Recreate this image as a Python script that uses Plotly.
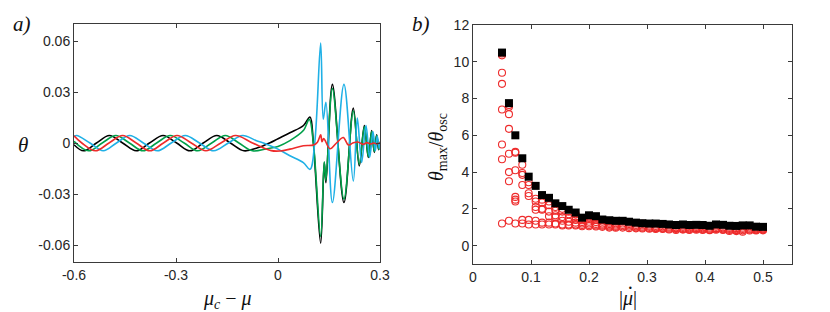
import plotly.graph_objects as go

# ---------------- Panel a data (key points) ----------------
black_x = [-0.6, -0.572, -0.534, -0.496, -0.457, -0.417, -0.378, -0.338, -0.298, -0.259, -0.22, -0.18,
           -0.14, -0.1, -0.06, -0.025, 0.0, 0.035, 0.075, 0.094, 0.104, 0.1255, 0.136, 0.141, 0.160,
           0.194, 0.2215, 0.239, 0.254, 0.2657, 0.2755, 0.2833, 0.2902, 0.296, 0.3]
black_y = [-0.001, -0.0046, 0.0, 0.0044, 0.0, -0.0046, 0.0, 0.0044, 0.0, -0.0046, 0.0, 0.0044,
           0.0, -0.0046, -0.0028, 0.0, 0.0025, 0.006, 0.0103, 0.0153, 0.0, -0.059, -0.0115, -0.0234, 0.0345,
           -0.035, 0.0205, -0.0135, 0.0103, -0.0085, 0.0073, -0.0055, 0.0048, -0.004, 0.0]

green_x = [-0.6, -0.557, -0.517, -0.477, -0.437, -0.397, -0.357, -0.317, -0.276, -0.236, -0.195, -0.155,
           -0.115, -0.075, -0.035, 0.0, 0.035, 0.0745, 0.092, 0.104, 0.1255, 0.136, 0.141, 0.160,
           0.194, 0.2215, 0.239, 0.254, 0.2657, 0.2755, 0.2833, 0.2902, 0.296, 0.3]
green_y = [0.001, -0.0046, 0.0, 0.0044, 0.0, -0.0046, 0.0, 0.0044, 0.0, -0.0046, 0.0, 0.0044,
           0.0, -0.0046, -0.0035, -0.002, 0.0014, 0.0073, 0.0139, 0.0, -0.055, -0.011, -0.022, 0.032,
           -0.033, 0.019, -0.0125, 0.0095, -0.008, 0.0068, -0.005, 0.0044, -0.0036, 0.0008]

red_x = [-0.6, -0.577, -0.537, -0.497, -0.457, -0.417, -0.377, -0.337, -0.297, -0.255, -0.212, -0.168,
         -0.125, -0.075, -0.02, 0.006, 0.035, 0.0745, 0.104, 0.116, 0.1255, 0.1295, 0.1345, 0.153,
         0.172, 0.192, 0.207, 0.22, 0.235, 0.25, 0.262, 0.272, 0.282, 0.291, 0.3]
red_y = [0.0042, 0.0, -0.0046, 0.0, 0.0044, 0.0, -0.0046, 0.0, 0.0044, 0.0, -0.0046, 0.0,
         0.0044, 0.0, -0.0045, -0.0047, -0.0036, -0.0016, -0.0012, 0.0005, 0.0048, 0.0008, 0.0026, -0.0034,
         0.0, 0.0032, -0.0012, 0.0, 0.0006, -0.0008, 0.0002, -0.0006, 0.0, -0.0005, 0.0]

blue_x = [-0.6, -0.592, -0.553, -0.514, -0.475, -0.436, -0.396, -0.355, -0.314, -0.273, -0.231, -0.189,
          -0.146, -0.104, -0.065, -0.03, 0.0, 0.035, 0.0745, 0.094, 0.108, 0.1255, 0.133, 0.141, 0.160,
          0.194, 0.2215, 0.2333, 0.246, 0.2588, 0.2696, 0.2794, 0.2862, 0.292, 0.298, 0.3]
blue_y = [0.0038, 0.0044, 0.0, -0.0046, 0.0, 0.0044, 0.0, -0.0046, 0.0, 0.0044, 0.0, -0.0046,
          0.0, 0.0044, 0.0015, -0.001, -0.0036, -0.0075, -0.0115, -0.0155, 0.0, 0.0588, 0.014, 0.024, -0.035,
          0.0345, -0.0224, 0.0147, -0.0115, 0.0103, -0.0085, 0.0067, -0.0046, 0.004, -0.003, 0.0]

# ---------------- Panel b data ----------------
mu_dot = [0.050, 0.062, 0.073, 0.085, 0.096, 0.108, 0.119, 0.131, 0.142, 0.154,
          0.165, 0.177, 0.188, 0.200, 0.212, 0.223, 0.235, 0.246, 0.258, 0.269,
          0.281, 0.292, 0.304, 0.315, 0.327, 0.338, 0.350, 0.362, 0.373, 0.385,
          0.396, 0.408, 0.419, 0.431, 0.442, 0.454, 0.465, 0.477, 0.488, 0.500]
ratio_max = [10.5, 7.75, 6.0, 4.75, 3.75, 3.25, 2.75, 2.6, 2.3, 2.15,
             1.95, 1.8, 1.52, 1.65, 1.6, 1.42, 1.38, 1.35, 1.35, 1.3,
             1.25, 1.22, 1.2, 1.2, 1.18, 1.15, 1.12, 1.15, 1.12, 1.13,
             1.12, 1.08, 1.15, 1.13, 1.08, 1.07, 1.1, 1.1, 1.03, 1.02]
ratio_phases = [
    [10.45, 10.35, 9.4, 8.8, 7.4, 5.5, 4.7, 1.2],
    [7.65, 7.55, 7.15, 6.35, 5.0, 4.0, 3.5, 1.35],
    [5.1, 5.05, 4.1, 2.65, 2.5, 2.4, 1.2],
    [4.4, 3.95, 3.85, 3.3, 1.4, 1.2],
    [3.45, 3.3, 2.85, 2.7, 1.4, 1.15],
    [2.55, 2.4, 2.1, 1.95, 1.35, 1.15],
    [2.5, 2.35, 2.0, 1.95, 1.25, 1.15],
    [2.4, 2.2, 1.85, 1.6, 1.25, 1.15],
    [2.1, 1.9, 1.65, 1.55, 1.2, 1.15],
    [2.0, 1.85, 1.55, 1.35, 1.15, 1.1],
    [1.85, 1.7, 1.5, 1.3, 1.15, 1.1],
    [1.7, 1.55, 1.4, 1.25, 1.15, 1.1],
    [1.45, 1.38, 1.28, 1.2, 1.12, 1.05],
    [1.58, 1.45, 1.3, 1.2, 1.12, 1.05],
    [1.52, 1.4, 1.28, 1.18, 1.1, 1.04],
    [1.38, 1.3, 1.2, 1.14, 1.08, 1.02],
    [1.33, 1.25, 1.17, 1.1, 1.04, 0.98],
    [1.3, 1.22, 1.15, 1.08, 1.02, 0.97],
    [1.3, 1.2, 1.12, 1.05, 0.98],
    [1.25, 1.17, 1.1, 1.02, 0.95],
    [1.2, 1.12, 1.05, 0.99, 0.94],
    [1.18, 1.1, 1.03, 0.97, 0.93],
    [1.15, 1.08, 1.02, 0.96, 0.92],
    [1.15, 1.07, 1.0, 0.95, 0.9],
    [1.13, 1.05, 0.99, 0.94, 0.9],
    [1.1, 1.03, 0.97, 0.92, 0.88],
    [1.08, 1.0, 0.95, 0.9, 0.85],
    [1.1, 1.02, 0.96, 0.91, 0.87],
    [1.07, 1.0, 0.94, 0.89, 0.85],
    [1.08, 1.01, 0.95, 0.9, 0.86],
    [1.07, 1.0, 0.94, 0.89, 0.85],
    [1.04, 0.97, 0.92, 0.88, 0.84],
    [1.1, 1.02, 0.95, 0.9, 0.86],
    [1.08, 1.0, 0.94, 0.89, 0.85],
    [1.03, 0.96, 0.9, 0.85, 0.8],
    [1.02, 0.95, 0.89, 0.84, 0.79],
    [1.05, 0.97, 0.9, 0.83, 0.76],
    [1.05, 0.98, 0.92, 0.87, 0.82],
    [0.99, 0.94, 0.89, 0.85, 0.82],
    [0.98, 0.93, 0.89, 0.86, 0.83],
]

a_xticks = [-0.6, -0.3, 0, 0.3]
a_xlabels = ["-0.6", "-0.3", "0", "0.3"]
a_yticks = [-0.06, -0.03, 0, 0.03, 0.06]
a_ylabels = ["-0.06", "-0.03", "0", "0.03", "0.06"]
b_xticks = [0, 0.1, 0.2, 0.3, 0.4, 0.5]
b_xlabels = ["0", "0.1", "0.2", "0.3", "0.4", "0.5"]
b_yticks = [0, 2, 4, 6, 8, 10, 12]
b_ylabels = ["0", "2", "4", "6", "8", "10", "12"]

# ---------------- Figure ----------------
W, H = 830, 312
fig = go.Figure()

line_styles = [("#000000", black_x, black_y), ("#00a04a", green_x, green_y),
               ("#1fb0e6", blue_x, blue_y), ("#ee2b2b", red_x, red_y)]
for col, xs, ys in line_styles:
    fig.add_trace(go.Scatter(x=xs, y=ys, mode="lines", line=dict(color=col, width=1.6, shape="spline", smoothing=1.0),
                             xaxis="x", yaxis="y", showlegend=False, hoverinfo="skip"))

rx, ry = [], []
for xv, vals in zip(mu_dot, ratio_phases):
    for v in vals:
        rx.append(xv)
        ry.append(v)
fig.add_trace(go.Scatter(x=rx, y=ry, mode="markers", xaxis="x2", yaxis="y2", showlegend=False,
                         marker=dict(symbol="circle-open", size=7, color="#ee2b2b", line=dict(width=1.1, color="#ee2b2b"))))
fig.add_trace(go.Scatter(x=mu_dot, y=ratio_max, mode="markers", xaxis="x2", yaxis="y2", showlegend=False,
                         marker=dict(symbol="square", size=8, color="#000000", line=dict(width=0))))

tickfont = dict(family="Liberation Sans, Arial, sans-serif", size=14, color="#262626")
axis_common = dict(showgrid=False, zeroline=False, showline=True, linecolor="#3a3a3a", linewidth=1,
                   mirror="allticks", ticks="inside", ticklen=4, tickwidth=1, tickcolor="#3a3a3a",
                   tickfont=tickfont, automargin=False)

def px_x(p):
    return p / W

def px_y(p):
    return 1 - p / H

fig.update_layout(
    width=W, height=H, margin=dict(l=0, r=0, t=0, b=0, pad=0, autoexpand=False),
    paper_bgcolor="white", plot_bgcolor="white", showlegend=False,
    xaxis=dict(domain=[px_x(74), px_x(380)], range=[-0.6, 0.3], tickvals=a_xticks, ticktext=a_xlabels,
               anchor="y", **axis_common),
    yaxis=dict(domain=[px_y(262), px_y(24)], range=[-0.07, 0.07], tickvals=a_yticks, ticktext=a_ylabels,
               anchor="x", **axis_common),
    xaxis2=dict(domain=[px_x(473), px_x(792)], range=[0, 0.55], tickvals=b_xticks, ticktext=b_xlabels,
                anchor="y2", **axis_common),
    yaxis2=dict(domain=[px_y(264), px_y(25)], range=[-1, 12], tickvals=b_yticks, ticktext=b_ylabels,
                anchor="x2", **axis_common),
)

serif = "Liberation Serif, Times New Roman, serif"
def ann(text, x, y, size=20, angle=0):
    fig.add_annotation(text=text, x=px_x(x), y=px_y(y), xref="paper", yref="paper", showarrow=False,
                       xanchor="center", yanchor="middle", textangle=angle,
                       font=dict(family=serif, size=size, color="#111111"))

ann("<i>a)</i>", 22, 24, size=21)
ann("<i>b)</i>", 421, 24, size=21)
ann("<i>θ</i>", 23, 145, size=21)
ann("<i>μ<sub>c</sub></i> − <i>μ</i>", 227, 299, size=20)
ann("<i>θ</i><sub>max</sub>/<i>θ</i><sub>osc</sub>", 437, 147, size=20, angle=-90)
ann("|<i>μ</i>|", 628, 298, size=20)
ann("·", 630, 288, size=20)

fig.write_html("out.html", config={"displayModeBar": False},
               post_script="document.body.style.margin='0px';document.body.style.overflow='hidden';")
